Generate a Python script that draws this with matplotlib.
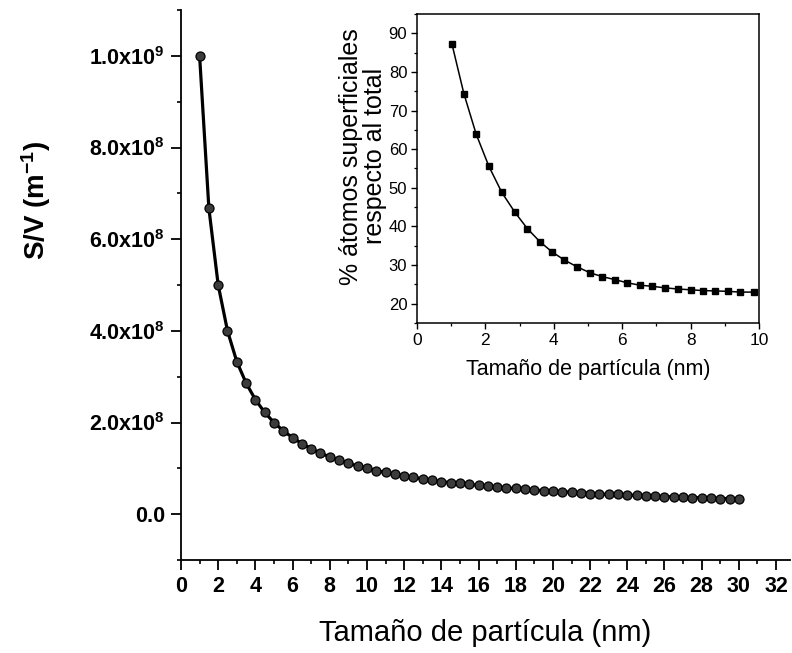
import matplotlib
matplotlib.use("Agg")
import matplotlib.pyplot as plt
from matplotlib.ticker import MultipleLocator, FixedLocator, FixedFormatter

plt.rcParams['font.family'] = ['Liberation Sans', 'DejaVu Sans']
plt.rcParams['mathtext.default'] = 'regular'

# Main series: S/V vs particle size
size_nm = [1.0, 1.5, 2.0, 2.5, 3.0, 3.5, 4.0, 4.5, 5.0, 5.5, 6.0, 6.5, 7.0, 7.5,
           8.0, 8.5, 9.0, 9.5, 10.0, 10.5, 11.0, 11.5, 12.0, 12.5, 13.0, 13.5,
           14.0, 14.5, 15.0, 15.5, 16.0, 16.5, 17.0, 17.5, 18.0, 18.5, 19.0,
           19.5, 20.0, 20.5, 21.0, 21.5, 22.0, 22.5, 23.0, 23.5, 24.0, 24.5,
           25.0, 25.5, 26.0, 26.5, 27.0, 27.5, 28.0, 28.5, 29.0, 29.5, 30.0]
sv_values = [1.000e9, 6.67e8, 5.00e8, 4.00e8, 3.33e8, 2.86e8, 2.50e8, 2.22e8,
             2.00e8, 1.82e8, 1.67e8, 1.54e8, 1.43e8, 1.33e8, 1.25e8, 1.18e8,
             1.11e8, 1.05e8, 1.00e8, 9.5e7, 9.1e7, 8.7e7, 8.3e7, 8.0e7, 7.7e7,
             7.4e7, 7.1e7, 6.9e7, 6.7e7, 6.5e7, 6.3e7, 6.1e7, 5.9e7, 5.7e7,
             5.6e7, 5.4e7, 5.3e7, 5.1e7, 5.0e7, 4.9e7, 4.8e7, 4.7e7, 4.5e7,
             4.4e7, 4.3e7, 4.3e7, 4.2e7, 4.1e7, 4.0e7, 3.9e7, 3.8e7, 3.8e7,
             3.7e7, 3.6e7, 3.6e7, 3.5e7, 3.4e7, 3.4e7, 3.3e7]

# Inset series: % surface atoms
inset_size = [1.02, 1.37, 1.73, 2.10, 2.48, 2.86, 3.23, 3.60, 3.95, 4.31, 4.69,
              5.06, 5.42, 5.80, 6.15, 6.51, 6.88, 7.25, 7.63, 8.00, 8.36, 8.72,
              9.09, 9.45, 9.84]
inset_pct = [87.3, 74.4, 63.9, 55.6, 48.8, 43.7, 39.4, 36.0, 33.4, 31.3, 29.5,
             28.0, 27.0, 26.2, 25.4, 24.8, 24.5, 24.1, 23.8, 23.6, 23.4, 23.3,
             23.2, 23.0, 23.0]

main_yticks = [0.0, 2.0e8, 4.0e8, 6.0e8, 8.0e8, 1.0e9]
main_ytick_labels = ['0.0', '2.0x10$^{8}$', '4.0x10$^{8}$', '6.0x10$^{8}$',
                     '8.0x10$^{8}$', '1.0x10$^{9}$']
main_xticks = list(range(0, 33, 2))
inset_yticks = [20, 30, 40, 50, 60, 70, 80, 90]
inset_xticks = [0, 2, 4, 6, 8, 10]

fig = plt.figure(figsize=(7.92, 6.53), dpi=100)
ax = fig.add_axes([181/792, 1 - 560/653, (790-181)/792, (560-10)/653])

ax.plot(size_nm, sv_values, color='black', lw=2.3, marker='o', ms=6.5,
        markerfacecolor='#3c3c3c', markeredgecolor='black', markeredgewidth=0.9)

ax.set_xlim(0, 32.75)
ax.set_ylim(-1.0e8, 1.1e9)
ax.xaxis.set_major_locator(FixedLocator(main_xticks))
ax.xaxis.set_minor_locator(MultipleLocator(1))
ax.yaxis.set_major_locator(FixedLocator(main_yticks))
ax.yaxis.set_major_formatter(FixedFormatter(main_ytick_labels))
ax.yaxis.set_minor_locator(MultipleLocator(1e8))
for s in ['top', 'right']:
    ax.spines[s].set_visible(False)
for s in ['left', 'bottom']:
    ax.spines[s].set_linewidth(1.3)
ax.tick_params(which='major', direction='out', length=7, width=1.3,
               labelsize=15.5, pad=4.5)
ax.tick_params(which='minor', direction='out', length=3, width=1.2)
for lab in ax.get_xticklabels() + ax.get_yticklabels():
    lab.set_fontweight('bold')
ax.set_ylabel('S/V (m$^{-1}$)', fontsize=20, fontweight='bold')
ax.yaxis.set_label_coords(-0.21, 0.6545)
ax.set_xlabel('Tamaño de partícula (nm)', fontsize=21)
ax.xaxis.set_label_coords(0.5, -0.108)

# Inset
axi = fig.add_axes([417/792, 1 - 323/653, (759-417)/792, (323-14)/653])
axi.plot(inset_size, inset_pct, color='black', lw=1.1, marker='s', ms=4.5,
         markerfacecolor='black', markeredgecolor='black')
axi.set_xlim(0, 10)
axi.set_ylim(15, 95)
axi.xaxis.set_major_locator(FixedLocator(inset_xticks))
axi.xaxis.set_minor_locator(MultipleLocator(1))
axi.yaxis.set_major_locator(FixedLocator(inset_yticks))
axi.yaxis.set_minor_locator(MultipleLocator(5))
for s in axi.spines.values():
    s.set_linewidth(1.1)
axi.tick_params(which='major', direction='out', length=4.5, width=1.0, pad=2.5)
axi.tick_params(which='minor', direction='out', length=2.5, width=0.9)
axi.tick_params(axis='y', labelsize=12)
axi.tick_params(axis='x', labelsize=12.5)
axi.set_ylabel('% átomos superficiales\nrespecto al total', fontsize=18,
               linespacing=1.0)
axi.yaxis.set_label_coords(-0.088, 0.54)
axi.set_xlabel('Tamaño de partícula (nm)', fontsize=15.5)
axi.xaxis.set_label_coords(0.5, -0.115)

fig.savefig('out.png', dpi=100)
